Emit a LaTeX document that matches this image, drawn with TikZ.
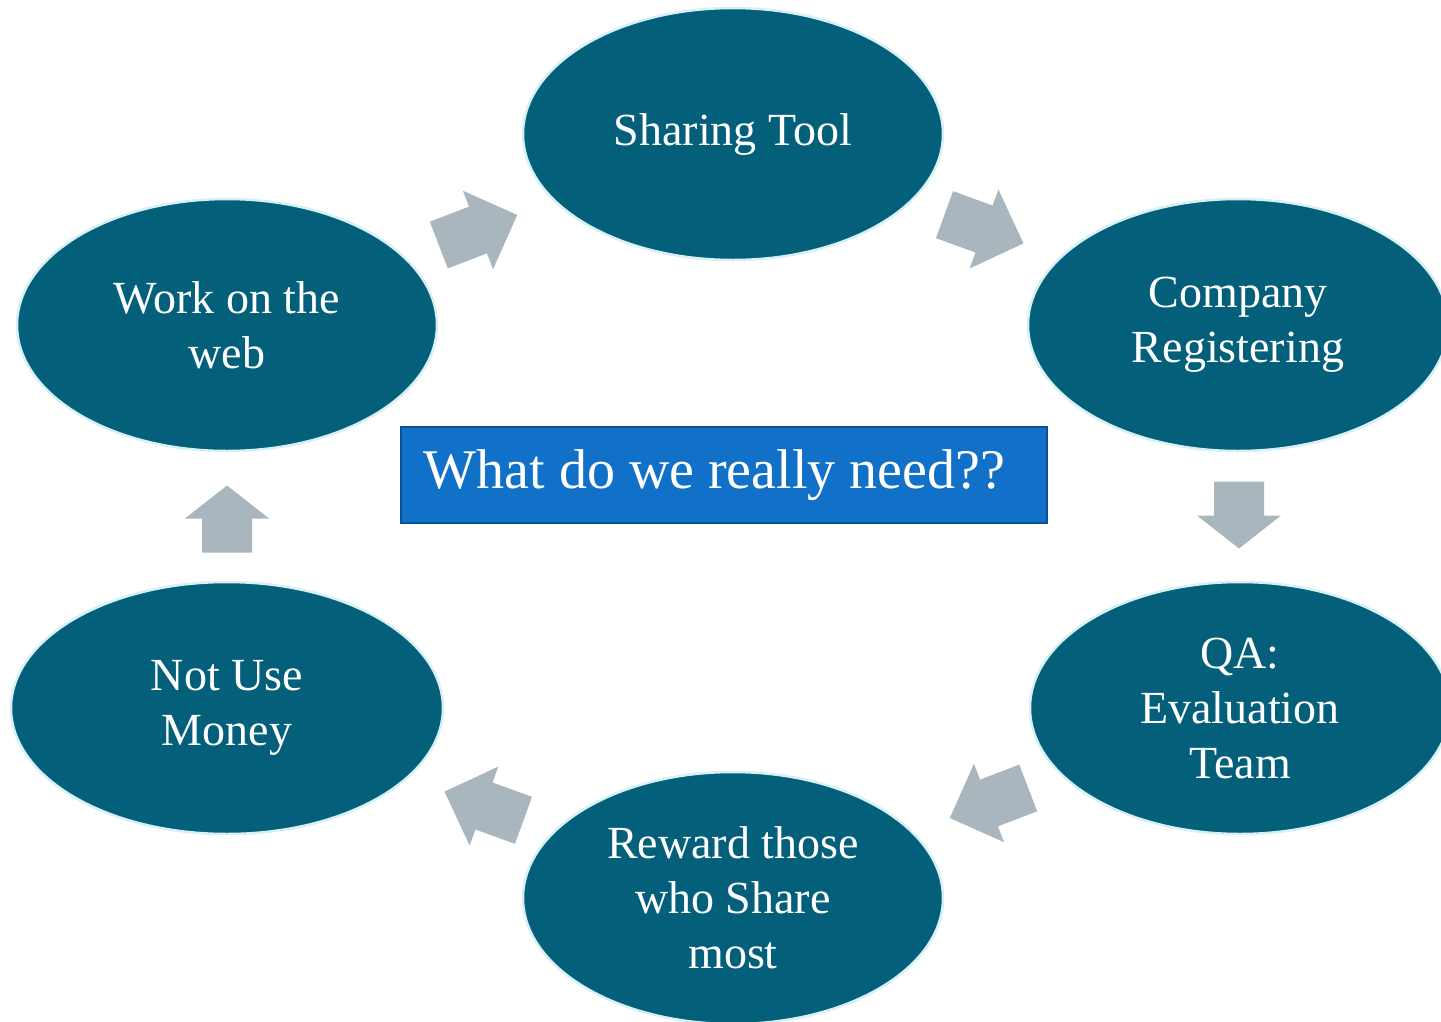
\documentclass[tikz,border=0pt]{standalone}
\usepackage{fontspec}
\setmainfont{Liberation Serif}
\usetikzlibrary{shapes.geometric}

\definecolor{tealfill}{HTML}{04607A}
\definecolor{tealedge}{HTML}{D6F0F6}
\definecolor{arrowgray}{HTML}{AAB6BE}
\definecolor{boxfill}{HTML}{1170C8}
\definecolor{boxedge}{HTML}{0B5094}

% block arrow: centre x, centre y, angle, length, head length
\newcommand{\bigarrow}[5]{%
  \fill[arrowgray, shift={(#1,#2)}, rotate=#3]
    (-#4/2,-25) -- (#4/2-#5,-25) -- (#4/2-#5,-42) -- (#4/2,0)
    -- (#4/2-#5,42) -- (#4/2-#5,25) -- (-#4/2,25) -- cycle;}

\tikzset{
  stage/.style={ellipse, fill=tealfill, draw=tealedge, line width=2.5pt,
    minimum width=420, minimum height=252, inner sep=0pt,
    text=white, align=center, font=\fontsize{46}{55}\selectfont},
  question/.style={rectangle, fill=boxfill, draw=boxedge, line width=1.5pt,
    minimum height=96, minimum width=646, inner xsep=23pt,
    text=white, font=\fontsize{56}{60}\selectfont}
}

\begin{document}
\begin{tikzpicture}[x=1pt, y=-1pt]

    % page and clip
    \useasboundingbox (0,0) rectangle (1441,1021);
    \clip (0,0) rectangle (1441,1021);
    \fill[white] (0,0) rectangle (1441,1021);

    % the six stages of the cycle
    \node[stage] (share)   at (733,134)  {Sharing Tool};
    \node[stage] (company) at (1238,325) {Company\\Registering};
    \node[stage] (qa)      at (1240,708) {QA:\\Evaluation\\Team};
    \node[stage] (reward)  at (733,898)  {Reward those\\who Share\\most};
    \node[stage, minimum width=432] (nomoney) at (227,708) {Not Use\\Money};
    \node[stage] (web)     at (227,325)  {Work on the\\web};

    % the question in the middle
    \node[question, anchor=west] (ask) at (400,475)
      {\makebox[600pt][l]{What do we really need??}};

    % arrows between the stages
    \bigarrow{478}{230}{21}{84}{42}    % web -> share
    \bigarrow{984}{229}{-20}{84}{42}   % share -> company
    \bigarrow{1239}{515}{-90}{67}{33}  % company -> qa
    \bigarrow{989}{803}{201}{84}{42}   % qa -> reward
    \bigarrow{484}{806}{160}{84}{42}   % reward -> nomoney
    \bigarrow{227}{519}{90}{67}{33}    % nomoney -> web

\end{tikzpicture}
\end{document}
